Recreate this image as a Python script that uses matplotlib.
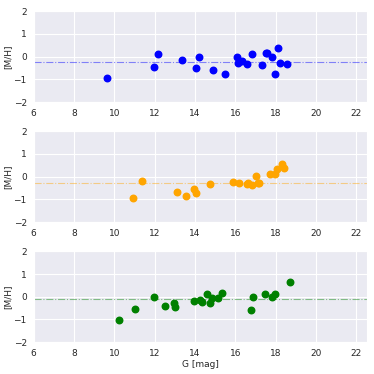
import matplotlib
matplotlib.use("Agg")
import matplotlib.pyplot as plt
import seaborn as sns

sns.set_style("darkgrid")
plt.rcParams['font.family'] = ['DejaVu Sans']

# blue sample
g_blue = [9.63, 11.97, 12.14, 13.36, 14.05, 14.18, 14.88, 15.49, 16.10, 16.15, 16.33,
          16.56, 16.84, 17.34, 17.50, 17.58, 17.80, 17.96, 18.13, 18.23, 18.57]
mh_blue = [-0.94, -0.45, 0.13, -0.16, -0.51, 0.00, -0.60, -0.77, 0.00, -0.26, -0.18,
           -0.31, 0.13, -0.35, 0.17, 0.17, -0.03, -0.77, 0.37, -0.27, -0.33]
mean_blue = -0.24

# orange sample
g_orange = [10.90, 11.35, 13.13, 13.57, 13.97, 14.05, 14.73, 15.88, 16.16, 16.59,
            16.64, 16.84, 17.04, 17.10, 17.17, 17.72, 17.96, 18.06, 18.29, 18.43]
mh_orange = [-0.94, -0.21, -0.66, -0.86, -0.54, -0.73, -0.31, -0.24, -0.27, -0.31,
             -0.29, -0.36, 0.04, -0.29, -0.29, 0.11, 0.14, 0.36, 0.56, 0.37]
mean_orange = -0.26

# green sample
g_green = [10.21, 11.02, 11.99, 12.52, 12.98, 13.03, 13.94, 14.23, 14.32, 14.58,
           14.75, 14.85, 15.16, 15.36, 16.78, 16.88, 17.47, 17.80, 17.98, 18.71]
mh_green = [-1.02, -0.52, -0.03, -0.42, -0.29, -0.44, -0.17, -0.13, -0.22, 0.10,
            -0.26, -0.04, -0.07, 0.15, -0.60, 0.00, 0.12, -0.01, 0.12, 0.65]
mean_green = -0.12

panels = [
    (g_blue, mh_blue, mean_blue, "blue"),
    (g_orange, mh_orange, mean_orange, "orange"),
    (g_green, mh_green, mean_green, "green"),
]

fs = 6.5
fig, axes = plt.subplots(3, 1, figsize=(3.74, 3.74), dpi=100)
for ax, (g, mh, mean, color) in zip(axes, panels):
    ax.scatter(g, mh, s=22, color=color, zorder=3)
    ax.axhline(mean, color=color, linestyle="-.", linewidth=0.8, alpha=0.45)
    ax.set_xlim(6, 22.5)
    ax.set_ylim(-2, 2)
    ax.set_xticks(range(6, 23, 2))
    ax.set_yticks([-2, -1, 0, 1, 2])
    ax.tick_params(labelsize=fs, pad=1.5)
    ax.set_ylabel("[M/H]", fontsize=fs, labelpad=1)
axes[-1].set_xlabel("G [mag]", fontsize=fs, labelpad=1)

fig.subplots_adjust(left=0.09, right=0.98, top=0.97, bottom=0.085, hspace=0.32)
fig.savefig("out.png")
